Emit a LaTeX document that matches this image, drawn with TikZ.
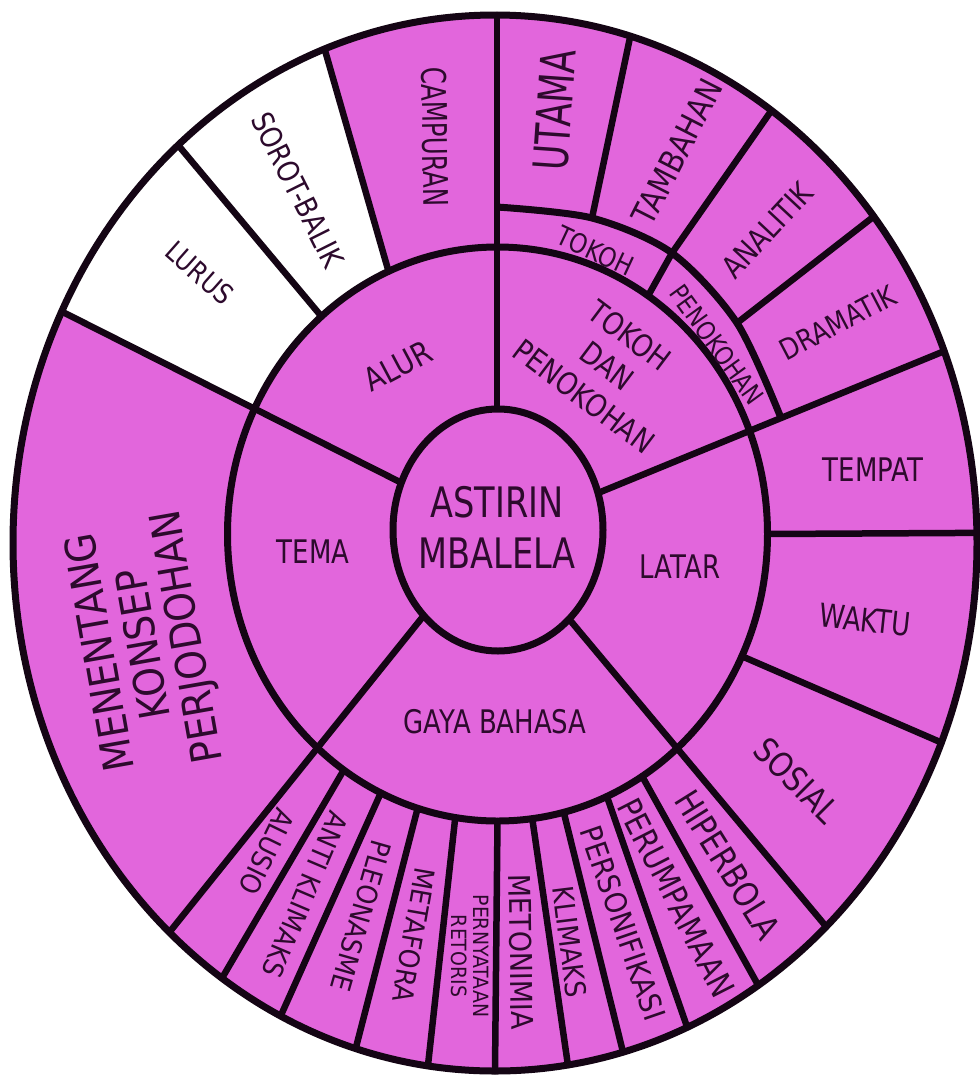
\documentclass[tikz,border=0pt]{standalone}
\usepackage{fontspec}
\setmainfont{DejaVu Sans}
\newfontfamily\fh{DejaVu Sans}[FakeStretch=0.80]
\newfontfamily\fd{DejaVu Sans}[FakeStretch=0.85]
\newfontfamily\fv{DejaVu Sans}[FakeStretch=0.90]
\newfontfamily\fc{DejaVu Sans}[FakeStretch=0.72]
\definecolor{pk}{RGB}{226,102,220}
\definecolor{ln}{RGB}{20,5,20}
\definecolor{tx}{RGB}{45,10,45}
\newcommand\fsz[2]{\fontsize{#1}{#2}\selectfont}
\newcommand\dMO[2]{\draw[divl] ([shift={(cM)}]#1:270 and 287) -- ([shift={(cO)}]#2:482 and 528);}
\newcommand\dIO[2]{\draw[divl] ([shift={(cI)}]#1:105 and 121) -- ([shift={(cO)}]#2:482 and 528);}
\begin{document}
\begin{tikzpicture}[x=1pt,y=1pt,
  ring/.style={draw=ln,line width=7pt},
  divl/.style={draw=ln,line width=6.5pt,line cap=round},
  lab/.style={text=tx,inner sep=0pt,align=center}]
\useasboundingbox (0,0) rectangle (980,-1088);
\fill[white] (0,0) rectangle (980,-1088);
\coordinate (cI) at (498,-530);
\coordinate (cM) at (497.5,-534);
\coordinate (cO) at (495,-543);
% fills
\fill[pk] (cO) ellipse[x radius=482,y radius=528];
\fill[white] ([shift={(cO)}]110.7:482 and 528) arc[start angle=110.7,end angle=154,x radius=482,y radius=528]
  -- ([shift={(cM)}]153.6:270 and 287) arc[start angle=153.6,end angle=113.8,x radius=270,y radius=287] -- cycle;
% dividers
\draw[divl] (497,-409) -- (497,-15);
\dMO{113.8}{110.7}
\dMO{130.7}{131.1}
\dIO{157}{154}
\dIO{225}{227.5}
\dMO{235.3}{235.5}
\dMO{244.4}{243.6}
\dMO{252.8}{253.2}
\dMO{261}{262}
\dMO{270}{270}
\dMO{277.4}{278.7}
\dMO{284.2}{285.4}
\dMO{293.9}{293.5}
\dMO{302.4}{303.1}
\dIO{312.6}{313.4}
\dMO{334.8}{337.8}
\dMO{0}{1.1}
\dIO{17.8}{21.3}
% sub ring (tokoh / penokohan)
\coordinate (s0) at (497,-207);
\coordinate (s1) at (592,-218);
\coordinate (s2) at (672,-253);
\coordinate (s3) at (737,-323);
\coordinate (s4) at (781,-418);
\draw[ring] plot[smooth] coordinates {(s0) (s1) (s2) (s3) (s4)};
\draw[divl] (s1) -- ([shift={(cO)}]73.7:482 and 528);
\draw[divl] (s2) -- ([shift={(cO)}]55:482 and 528);
\draw[divl] ([shift={(cM)}]56.1:270 and 287) -- (s2);
\draw[divl] (s3) -- ([shift={(cO)}]38.2:482 and 528);
% rings
\draw[ring] (cO) ellipse[x radius=482,y radius=528];
\draw[ring] (cM) ellipse[x radius=270,y radius=287];
\draw[ring,fill=pk] (cI) ellipse[x radius=105,y radius=121];
% centre and middle ring labels
\node[lab,font={\fh\fsz{42}{51}}] (judul) at (497,-527) {ASTIRIN\\MBALELA};
\node[lab,font={\fh\fsz{32.5}{39}}] (tema) at (313,-552) {TEMA};
\node[lab,font={\fh\fsz{32.5}{39}}] (latar) at (680,-567) {LATAR};
\node[lab,font={\fh\fsz{32.5}{39}}] (gaya) at (495,-722) {GAYA BAHASA};
\node[lab,font={\fd\fsz{32}{38}},rotate=28] (alur) at (398,-366) {ALUR};
\node[lab,font={\fd\fsz{31}{38}},rotate=-37] (tokohdan) at (607,-366) {TOKOH\\DAN\\PENOKOHAN};
% sub ring labels
\node[lab,font={\fd\fsz{27}{32}},rotate=-25] (tokoh) at (595,-251) {TOKOH};
\node[lab,font={\fd\fsz{26}{32}},rotate=-54] (penokohan) at (717,-345) {PENOKOHAN};
% outer ring labels
\node[lab,font={\fv\fsz{42}{44}},rotate=100] (isi) at (146,-644) {MENENTANG\\KONSEP\\PERJODOHAN};
\node[lab,font={\fd\fsz{28}{34}},rotate=-41.5] (lurus) at (200,-273) {LURUS};
\node[lab,font={\fd\fsz{30}{34}},rotate=-63.4] (sorot) at (298,-190) {SOROT-BALIK};
\node[lab,font={\fc\fsz{34}{40}},rotate=-89] (campuran) at (435,-137) {CAMPURAN};
\node[lab,font={\fc\fsz{48}{54}},rotate=86] (utama) at (555,-110) {UTAMA};
\node[lab,font={\fd\fsz{33}{38}},rotate=63] (tambahan) at (677,-152) {TAMBAHAN};
\node[lab,font={\fd\fsz{30.5}{36}},rotate=47] (analitik) at (767,-230) {ANALITIK};
\node[lab,font={\fd\fsz{29}{34}},rotate=27.5] (dramatik) at (838,-323) {DRAMATIK};
\node[lab,font={\fh\fsz{32.5}{39}}] (tempat) at (873,-470) {TEMPAT};
\node[lab,font={\fh\fsz{32.5}{39}},rotate=-6] (waktu) at (865,-620) {WAKTU};
\node[lab,font={\fd\fsz{34}{40}},rotate=-45] (sosial) at (797,-780) {SOSIAL};
\node[lab,font={\fd\fsz{34.5}{40}},rotate=-58] (hiperbola) at (728,-865) {HIPERBOLA};
\node[lab,font={\fd\fsz{33}{40}},rotate=-63] (perumpamaan) at (676,-898) {PERUMPAMAAN};
\node[lab,font={\fv\fsz{30}{36}},rotate=-71] (personifikasi) at (623,-923) {PERSONIFIKASI};
\node[lab,font={\fv\fsz{28.5}{34}},rotate=-83] (klimaks) at (570,-942) {KLIMAKS};
\node[lab,font={\fv\fsz{30}{36}},rotate=-89] (metonimia) at (521,-952) {METONIMIA};
\node[lab,font={\fv\fsz{21}{22}},rotate=-90] (pernyataan) at (470,-956) {PERNYATAAN\\RETORIS};
\node[lab,font={\fv\fsz{28}{34}},rotate=-100] (metafora) at (414,-935) {METAFORA};
\node[lab,font={\fv\fsz{28}{34}},rotate=-106] (pleonasme) at (361,-916) {PLEONASME};
\node[lab,font={\fv\fsz{28}{34}},rotate=-113] (antiklimaks) at (305,-895) {ANTI KLIMAKS};
\node[lab,font={\fv\fsz{28}{34}},rotate=-116] (alusio) at (267,-852) {ALUSIO};
\end{tikzpicture}
\end{document}
